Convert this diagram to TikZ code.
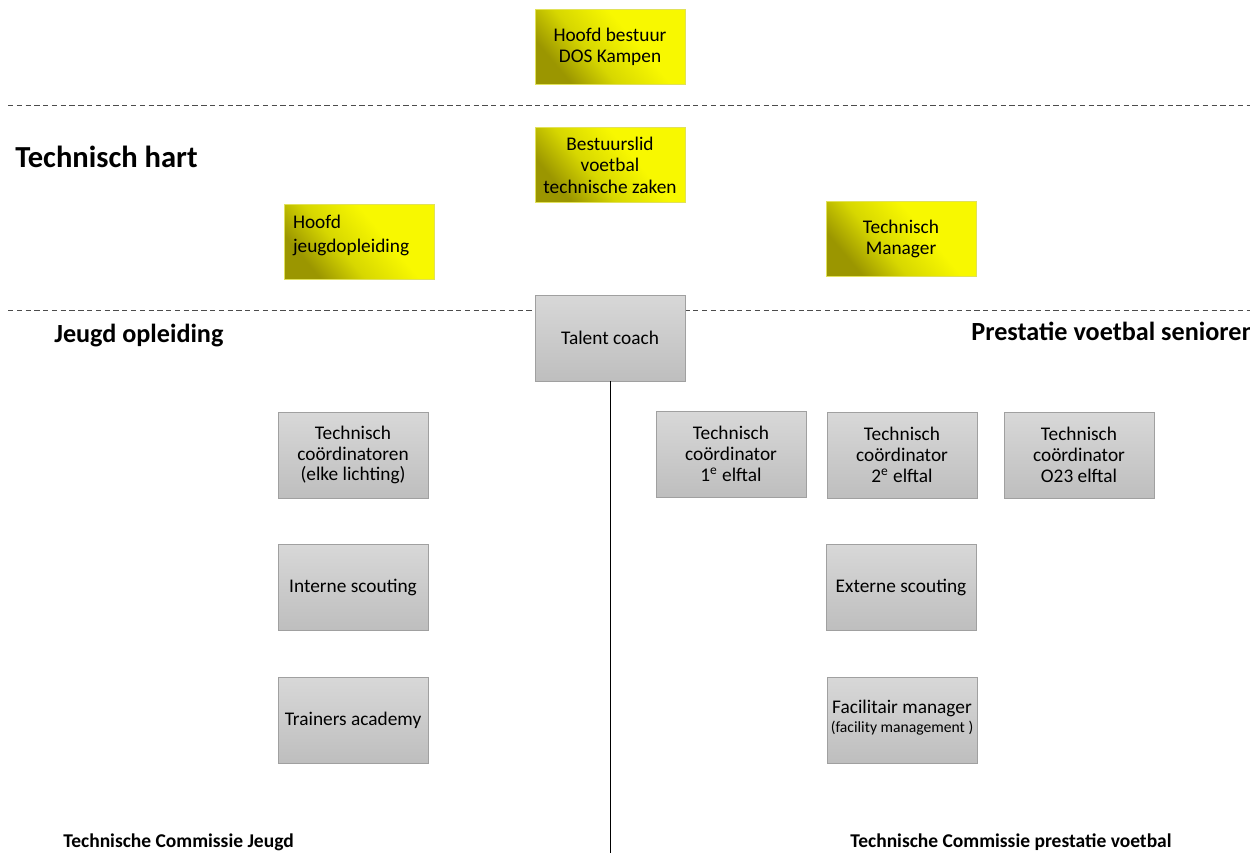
\documentclass[tikz,border=0pt]{standalone}
\usepackage{fontspec}
\setmainfont{Carlito}
\usetikzlibrary{positioning}

\definecolor{geeldonker}{RGB}{155,150,0}
\definecolor{geelmid}{RGB}{215,215,0}
\definecolor{geellicht}{RGB}{248,248,0}
\definecolor{geelrand}{RGB}{225,225,90}
\definecolor{grijsboven}{RGB}{216,216,216}
\definecolor{grijsonder}{RGB}{190,190,190}
\definecolor{grijsrand}{RGB}{160,160,160}

\pgfdeclarehorizontalshading{geelschaduw}{100bp}{color(0bp)=(geeldonker); color(27bp)=(geeldonker);
  color(42bp)=(geelmid); color(60bp)=(geellicht); color(100bp)=(geellicht)}

\begin{document}
\begin{tikzpicture}[x=0.02cm, y=-0.02cm,
  geelvak/.style={draw=geelrand, line width=0.3pt, shading=geelschaduw,
    shading angle=40, minimum width=3cm, minimum height=1.5cm,
    align=center, font=\fontsize{11}{12.2}\selectfont},
  grijsvak/.style={draw=grijsrand, line width=0.4pt,
    top color=grijsboven, bottom color=grijsonder,
    minimum width=3cm, minimum height=1.72cm,
    align=center, font=\fontsize{11}{11.8}\selectfont},
  kop/.style={anchor=west, inner sep=0pt, font=\bfseries\fontsize{14.9}{17}\selectfont},
  voet/.style={anchor=west, inner sep=0pt, font=\bfseries\fontsize{11.1}{13}\selectfont},
  scheiding/.style={draw=black!70, line width=0.4pt, dash pattern=on 3pt off 2pt}]
  \useasboundingbox (0,0) rectangle (1250,853);

  % scheidingslijnen
  \coordinate (l1) at (8,105);
  \coordinate (r1) at (1250,105);
  \coordinate (l2) at (8,310);
  \coordinate (r2) at (1250,310);
  \draw[scheiding] (l1) -- (r1);
  \draw[scheiding] (l2) -- (r2);

  % bestuur en technisch hart
  \node[geelvak]                 (hb) at (610,47)  {Hoofd bestuur\\DOS Kampen};
  \node[geelvak]                 (bt) at (610,165) {Bestuurslid\\voetbal\\technische zaken};
  \node[geelvak, minimum height=1.5cm, text width=2.64cm, inner xsep=0.18cm,
        align=left, text depth=0.82cm] (hj) at (359,242) {Hoofd\\[1.8pt]jeugdopleiding};
  \node[geelvak]                 (tm) at (901,239) {Technisch\\Manager};
  \node[grijsvak]                (tc) at (610,338) {Talent coach};

  % jeugd opleiding
  \node[grijsvak] (tcj) at (353,455) {Technisch\\coördinatoren\\(elke lichting)};
  \node[grijsvak] (is)  at (353,587) {Interne scouting};
  \node[grijsvak] (ta)  at (353,720) {Trainers academy};

  % prestatie voetbal
  \node[grijsvak] (tc1) at (731,454) {Technisch\\coördinator\\1\textsuperscript{e} elftal};
  \node[grijsvak] (tc2) at (902,455) {Technisch\\coördinator\\2\textsuperscript{e} elftal};
  \node[grijsvak] (tc3) at (1079,455) {Technisch\\coördinator\\O23 elftal};
  \node[grijsvak] (es)  at (901,587) {Externe scouting};
  \node[grijsvak, inner xsep=1pt, text depth=0.14cm] (fm)  at (902,720) {Facilitair manager\\[-1pt]{\fontsize{8.9}{10}\selectfont (facility management )}};

  % koppen
  \node[kop, font=\bfseries\fontsize{17.4}{20}\selectfont] (th) at (15,157) {Technisch hart};
  \node[kop] (jo) at (54,336) {Jeugd opleiding};
  \node[kop] (pv) at (971,331) {Prestatie voetbal senioren};
  \node[voet] (tcjv) at (63,842) {Technische Commissie Jeugd};
  \node[voet] (tcpv) at (850,842) {Technische Commissie prestatie voetbal};

  % verticale lijn
  \coordinate (onder) at (609,853);
  \draw[line width=0.5pt] (tc.south) -- (tc.south |- onder);
\end{tikzpicture}
\end{document}
